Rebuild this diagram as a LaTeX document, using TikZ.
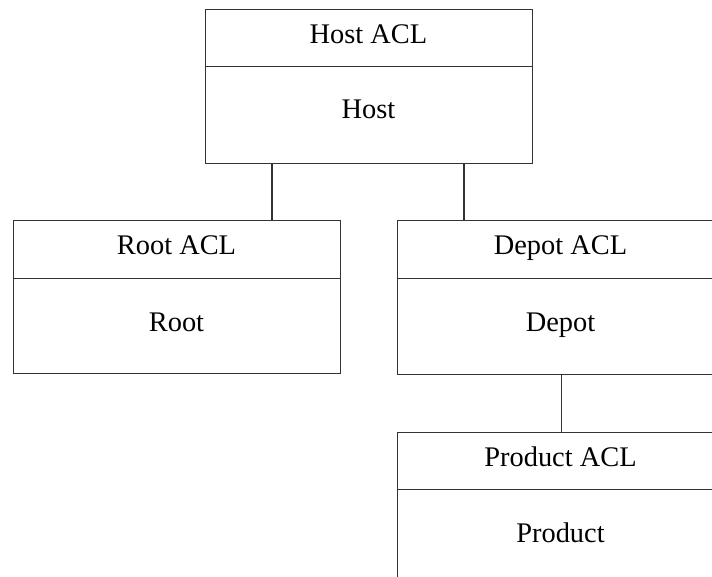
\documentclass[tikz,border=0pt]{standalone}
\usepackage{fontspec}
\setmainfont{Liberation Serif}
\usetikzlibrary{calc}
\begin{document}
\begin{tikzpicture}[x=1pt,y=-1pt,
 box/.style={draw=black!80, line width=1.1pt, minimum width=327pt, inner sep=0pt, anchor=north west},
 head/.style={box, minimum height=57pt},
 body/.style={box, minimum height=96pt},
 lbl/.style={anchor=base, font=\fontsize{28.4}{34}\selectfont, inner sep=0pt},
 link/.style={draw=black!80, line width=1.1pt}]
\useasboundingbox (0,0) rectangle (712,577);
\clip (0,0) rectangle (712,577);
% Host
\node[head] (hosth) at (205,9) {};
\node[body, minimum height=97pt] (hostb) at (205,66) {};
\node[lbl] (hostht) at (368.5,43.3) {Host ACL};
\node[lbl] (hostbt) at (368.5,119) {Host};
% Root
\node[head, minimum height=58pt] (rooth) at (13,220) {};
\node[body, minimum height=95pt] (rootb) at (13,278) {};
\node[lbl] (rootht) at (176.5,254.5) {Root ACL};
\node[lbl] (rootbt) at (176.5,331) {Root};
% Depot
\node[head, minimum height=58pt] (depoth) at (397,220) {};
\node[body, minimum height=96pt] (depotb) at (397,278) {};
\node[lbl] (depotht) at (560.5,254.5) {Depot ACL};
\node[lbl] (depotbt) at (560.5,331) {Depot};
% Product
\node[head] (producth) at (397,432) {};
\node[body, minimum height=130pt] (productb) at (397,489) {};
\node[lbl] (productht) at (560.5,466.3) {Product ACL};
\node[lbl] (productbt) at (560.5,542) {Product};
% connectors
\coordinate (c1) at ($(hostb.south west)+(67,0)$);
\coordinate (c2) at ($(hostb.south west)+(259,0)$);
\draw[link] (c1) -- (c1 |- rooth.north);
\draw[link] (c2) -- (c2 |- depoth.north);
\draw[link] (depotb.south) -- (producth.north);
\end{tikzpicture}
\end{document}
